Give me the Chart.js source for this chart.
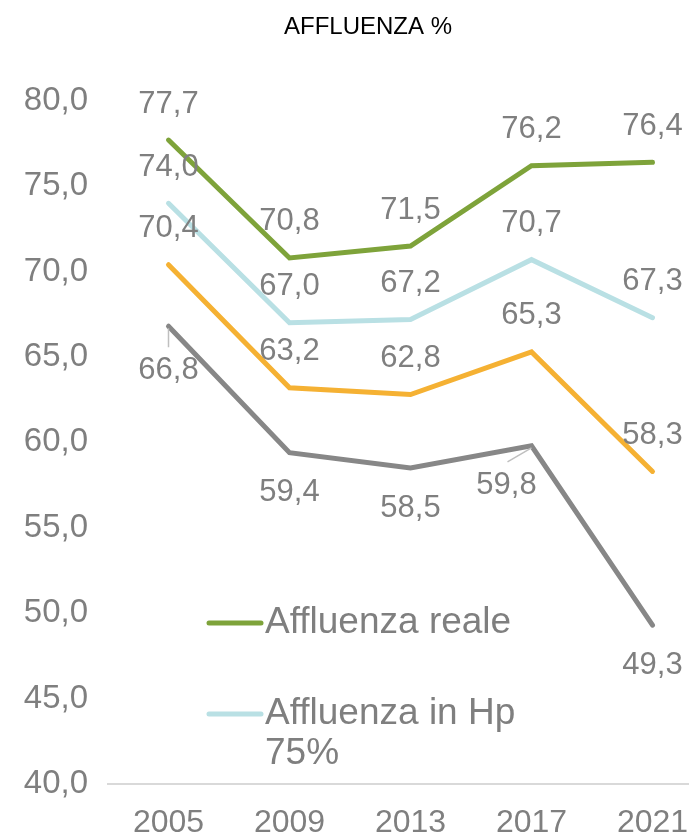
<!DOCTYPE html>
<html>
<head>
<meta charset="utf-8">
<script src="https://cdn.jsdelivr.net/npm/chart.js@4"></script>
<style>
  html, body { margin: 0; padding: 0; background: #fff; }
  #wrap { width: 689px; height: 835px; overflow: hidden; }
</style>
</head>
<body>
<div id="wrap"><canvas id="myChart" width="736" height="835"></canvas></div>
<script>
// dati del grafico
var anni = ['2005', '2009', '2013', '2017', '2021'];
var affluenzaReale = [77.7, 70.8, 71.5, 76.2, 76.4];
var affluenzaHp75 = [74.0, 67.0, 67.2, 70.7, 67.3];
var serieArancio = [70.4, 63.2, 62.8, 65.3, 58.3];
var serieGrigia = [66.8, 59.4, 58.5, 59.8, 49.3];
var etichetteLegenda = ['Affluenza reale', 'Affluenza in Hp 75%'];

var grigioTesto = '#7f7f7f';
var fontBase = "'Liberation Sans', Arial, sans-serif";

function fmt(v) {
    return v.toFixed(1).replace('.', ',');
}

// etichette dei valori: sopra o sotto la linea, alcune spostate con linea guida
var posEtichette = ['above', 'above', 'above', 'below'];
var spostamenti = { '3-0': { dx: 0, dy: 44 }, '3-3': { dx: -25, dy: 40 } };

var etichettePlugin = {
    id: 'etichette',
    afterDatasetsDraw: function(chart) {
        var ctx = chart.ctx;
        ctx.save();
        ctx.font = '31px ' + fontBase;
        ctx.fillStyle = grigioTesto;
        ctx.textAlign = 'center';
        ctx.textBaseline = 'middle';
        chart.data.datasets.forEach(function(ds, i) {
            var meta = chart.getDatasetMeta(i);
            meta.data.forEach(function(pt, j) {
                var sp = spostamenti[i + '-' + j];
                var x = pt.x, y = pt.y;
                if (sp) {
                    ctx.strokeStyle = '#bfbfbf';
                    ctx.lineWidth = 1.5;
                    ctx.beginPath();
                    if (sp.dx === 0) {
                        ctx.moveTo(x, y + 2);
                        ctx.lineTo(x, y + 21);
                    } else {
                        ctx.moveTo(x, y + 2);
                        ctx.lineTo(x + sp.dx + 1, y + 16);
                    }
                    ctx.stroke();
                    ctx.fillText(fmt(ds.data[j]), x + sp.dx, y + sp.dy);
                } else if (posEtichette[i] === 'above') {
                    ctx.fillText(fmt(ds.data[j]), x, y - 36);
                } else {
                    ctx.fillText(fmt(ds.data[j]), x, y + 40);
                }
            });
        });
        ctx.restore();
    }
};

// legenda dentro l'area del grafico, solo le prime due serie
var legendaPlugin = {
    id: 'legendaInterna',
    afterDraw: function(chart) {
        var ctx = chart.ctx;
        var righe = [
            { y: 623, testo: ['Affluenza reale'] },
            { y: 714, testo: ['Affluenza in Hp', '75%'] }
        ];
        ctx.save();
        ctx.font = '37px ' + fontBase;
        ctx.textBaseline = 'middle';
        ctx.textAlign = 'left';
        righe.forEach(function(r, i) {
            ctx.strokeStyle = chart.data.datasets[i].borderColor;
            ctx.lineWidth = 5;
            ctx.lineCap = 'round';
            ctx.beginPath();
            ctx.moveTo(209, r.y);
            ctx.lineTo(261, r.y);
            ctx.stroke();
            ctx.fillStyle = grigioTesto;
            r.testo.forEach(function(t, k) {
                ctx.fillText(t, 265, r.y + k * 40);
            });
        });
        ctx.restore();
    }
};

var ctx = document.getElementById('myChart').getContext('2d');
var affluenzaChart = new Chart(ctx, {
    type: 'line',
    data: {
        labels: anni,
        datasets: [
            { label: etichetteLegenda[0], data: affluenzaReale, borderColor: '#7ea33a' },
            { label: etichetteLegenda[1], data: affluenzaHp75, borderColor: '#b9e0e4' },
            { label: '', data: serieArancio, borderColor: '#f5b133' },
            { label: '', data: serieGrigia, borderColor: '#878787' }
        ]
    },
    options: {
        responsive: false,
        animation: false,
        elements: {
            line: { borderWidth: 5, tension: 0, borderCapStyle: 'round', fill: false },
            point: { radius: 0, hoverRadius: 0 }
        },
        layout: { padding: { left: 23, right: 23, top: 0, bottom: 0 } },
        plugins: {
            legend: { display: false },
            tooltip: { enabled: false },
            title: {
                display: true,
                text: 'AFFLUENZA %',
                color: '#000',
                font: { family: "'Liberation Sans Narrow', " + fontBase, size: 24, weight: 'normal' },
                padding: { top: 13, bottom: 59 }
            }
        },
        scales: {
            x: {
                offset: true,
                grid: { display: false, drawTicks: false },
                border: { display: true, color: '#d9d9d9', width: 2 },
                ticks: { color: grigioTesto, font: { family: fontBase, size: 32 }, padding: 20 },
                afterFit: function(s) { s.height = 51; }
            },
            y: {
                min: 40,
                max: 80,
                grid: { display: false, drawTicks: false },
                border: { display: false },
                ticks: {
                    stepSize: 5,
                    color: grigioTesto,
                    font: { family: fontBase, size: 33 },
                    padding: 20,
                    callback: function(v) { return fmt(v); }
                },
                afterFit: function(s) { s.width = 85; }
            }
        }
    },
    plugins: [etichettePlugin, legendaPlugin]
});
</script>
</body>
</html>
